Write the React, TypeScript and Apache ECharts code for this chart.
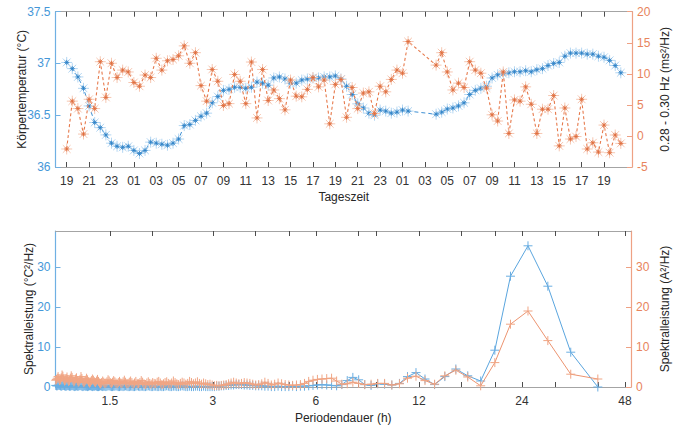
import React, { useEffect, useRef } from 'react';
import * as echarts from 'echarts';

// ---------- data: top chart (half-hourly samples starting 19:00 on day 1) ----------
const START_HOUR = 19;
const STEP_H = 0.5;
const TEMP: (number | null)[] = [
  37.01, 36.95, 36.87, 36.76, 36.59, 36.43, 36.38, 36.31, 36.23, 36.2,
  36.19, 36.2, 36.16, 36.13, 36.16, 36.24, 36.23, 36.22, 36.21, 36.23,
  36.27, 36.4, 36.41, 36.45, 36.49, 36.52, 36.62, 36.68, 36.74, 36.75,
  36.77, 36.77, 36.76, 36.77, 36.82, 36.81, 36.79, 36.86, 36.87, 36.85,
  36.81, 36.81, 36.84, 36.85, 36.86, 36.86, 36.87, 36.87, 36.88, 36.85,
  36.78, 36.7, 36.61, 36.57, 36.52, 36.5, 36.55, 36.54, 36.52, 36.53,
  36.55, 36.54, null, null, null, null, 36.51, 36.53, 36.56, 36.57,
  36.59, 36.62, 36.7, 36.74, 36.76, 36.78, 36.86, 36.89, 36.9, 36.91,
  36.92, 36.92, 36.93, 36.92, 36.94, 36.95, 36.98, 37.0, 37.01, 37.07,
  37.1, 37.1, 37.1, 37.09, 37.09, 37.07, 37.06, 37.03, 36.98, 36.91,
];
const HRV: (number | null)[] = [
  -2.1, 5.6, 4.4, 0.3, 5.9, 4.4, 11.95, 6.2, 11.7, 9.4,
  10.6, 10.3, 8.6, 8.0, 9.8, 9.4, 12.5, 10.6, 12.1, 12.3,
  12.9, 14.5, 11.7, 13.4, 8.1, 5.6, 10.7, 8.8, 4.9, 5.2,
  9.9, 8.8, 5.2, 11.9, 2.9, 10.7, 5.7, 7.4, 6.0, 4.2,
  9.0, 6.4, 6.3, 7.5, 9.4, 7.9, 9.0, 1.95, 8.3, 9.1,
  3.0, 7.8, 4.4, 6.9, 7.1, 3.6, 8.0, 7.1, 9.1, 10.6,
  10.1, 15.2, null, null, null, null, 11.4, 13.4, 10.3, 7.4,
  8.5, 7.8, 11.95, 10.6, 10.1, 7.7, 3.4, 2.4, 10.3, 0.4,
  5.8, 5.6, 7.9, 5.1, 0.4, 4.3, 4.3, 6.5, -1.6, 4.5,
  -0.5, -0.1, 5.9, -2.1, -1.1, -2.6, 1.75, -2.7, 0.15, -1.2,
];
const TIME_TICKS = [19, 21, 23, 25, 27, 29, 31, 33, 35, 37, 39, 41, 43, 45, 47, 49, 51, 53, 55, 57, 59, 61, 63, 65, 67];

// ---------- data: bottom chart (spectral bins, period = BIN_HOURS / k, k from FIRST_BIN) ----------
const BIN_HOURS = 200;
const FIRST_BIN = 5;
const PSD_TEMP = [
  0.0, 8.7, 25.2, 35.3, 27.7, 9.2, 1.5, 2.8, 4.5, 2.6,
  0.6, 2.0, 3.6, 2.6, 0.9, 0.5, 0.7, 0.8, 0.4, 0.6,
  1.8, 2.4, 1.6, 0.6, 0.3, 0.4, 0.5, 0.6, 0.5, 0.4,
  0.3, 0.2, 0.2, 0.1, 0.2, 0.1, 0.1, 0.1, 0.2, 0.1,
  0.1, 0.2, 0.2, 0.3, 0.3, 0.3, 0.4, 0.4, 0.5, 0.5,
  0.6, 0.6, 0.6, 0.5, 0.5, 0.4, 0.4, 0.3, 0.3, 0.2,
  0.2, 0.1, 0.1, 0.1, 0.1, 0.1, 0.2, 0.1, 0.1, 0.2,
  0.2, 0.1, 0.1, 0.2, 0.1, 0.1, 0.2, 0.3, 0.2, 0.1,
  0.1, 0.2, 0.2, 0.1, 0.1, 0.2, 0.3, 0.2, 0.1, 0.1,
  0.2, 0.1, 0.1, 0.2, 0.2, 0.1, 0.1, 0.2, 0.3, 0.2,
  0.1, 0.1, 0.2, 0.2, 0.1, 0.2, 0.3, 0.2, 0.1, 0.1,
  0.2, 0.2, 0.1, 0.1, 0.2, 0.3, 0.2, 0.1, 0.2, 0.2,
  0.1, 0.1, 0.2, 0.3, 0.2, 0.2, 0.1, 0.1, 0.2, 0.3,
  0.3, 0.2, 0.1, 0.2, 0.2, 0.1, 0.2, 0.3, 0.2, 0.1,
  0.1, 0.2, 0.3, 0.2, 0.2, 0.1, 0.2, 0.3, 0.3, 0.2,
  0.1, 0.2, 0.2, 0.3, 0.2, 0.1, 0.2, 0.3, 0.4, 0.3,
  0.2, 0.2, 0.3, 0.2, 0.1, 0.2, 0.3, 0.4, 0.3, 0.2,
  0.2, 0.3, 0.4, 0.3, 0.2, 0.2, 0.3, 0.4, 0.4, 0.3,
  0.2, 0.3, 0.4, 0.5, 0.4, 0.3, 0.3, 0.4,
];
const PSD_HRV = [
  2.0, 3.2, 11.6, 19.0, 15.7, 6.1, 0.3, 2.5, 4.2, 2.8,
  0.7, 1.6, 2.7, 2.2, 0.8, 0.5, 0.9, 0.9, 0.7, 0.6,
  0.9, 1.2, 0.8, 0.7, 1.5, 2.2, 2.1, 2.0, 1.9, 1.7,
  1.4, 0.9, 0.6, 0.5, 0.4, 0.5, 0.6, 0.8, 1.0, 0.7,
  0.5, 0.9, 1.2, 0.8, 0.6, 0.5, 0.7, 0.9, 1.0, 1.1,
  0.9, 0.8, 1.0, 1.2, 1.0, 0.8, 0.6, 0.5, 0.4, 0.3,
  0.4, 0.3, 0.5, 0.7, 0.6, 0.8, 1.0, 0.7, 0.9, 1.3,
  1.0, 0.8, 1.1, 1.4, 0.9, 0.7, 1.0, 1.2, 0.9, 0.6,
  0.8, 1.1, 1.5, 1.0, 0.7, 0.9, 1.3, 1.1, 0.8, 0.6,
  1.0, 1.4, 1.2, 0.8, 0.9, 1.1, 0.7, 0.9, 1.3, 1.0,
  0.6, 0.8, 1.2, 1.6, 1.1, 0.8, 0.9, 1.4, 1.0, 0.7,
  1.1, 1.5, 1.2, 0.9, 0.8, 1.2, 1.7, 1.3, 0.9, 1.0,
  1.4, 1.1, 0.8, 1.0, 1.3, 1.6, 1.2, 0.9, 1.1, 1.5,
  1.8, 1.3, 1.0, 0.9, 1.2, 1.5, 1.1, 0.8, 1.0, 1.4,
  1.9, 1.5, 1.1, 1.3, 1.7, 2.0, 1.6, 1.2, 1.0, 1.3,
  1.8, 2.2, 1.7, 1.3, 1.1, 1.5, 2.1, 2.6, 1.9, 1.4,
  1.2, 1.6, 2.3, 2.0, 1.5, 1.3, 1.8, 2.4, 2.8, 2.2,
  1.6, 1.4, 1.9, 2.5, 2.1, 1.7, 1.5, 2.0, 2.7, 3.0,
  2.3, 1.8, 1.6, 2.1, 2.6, 2.2, 1.9, 1.7,
];
const PERIOD_LABELS = [1.5, 3, 6, 12, 24, 48];
const PERIOD_TICKS = [1.5, 2, 3, 4, 5, 6, 8, 9, 12, 16, 20, 24, 30, 40, 48];
const PERIOD_MIN = 1.04;
const PERIOD_MAX = 50;

// ---------- styles ----------
const FONT = '"Liberation Sans", Arial, Helvetica, sans-serif';
const BLUE_TXT = '#4597d8';
const BLUE_AXIS = '#6fb0e3';
const BLUE_LINE = '#3d8fd3';
const BLUE_HALO = '#b3d6f2';
const BLUE_CORE = '#2a7fc6';
const OR_TXT = '#e8845c';
const OR_AXIS = '#eea184';
const OR_LINE = '#e6784a';
const OR_HALO = '#f6c7b2';
const OR_CORE = '#df6a39';
const BOX = '#a4a4a4';
const TICK = '#4d4d4d';
const TITLE = '#262626';

const HALO = 'path://M6,0L6,12M0,6L12,6M1.76,1.76L10.24,10.24M1.76,10.24L10.24,1.76';
const CORE = 'path://M3,0L3,6M0,3L6,3M0.9,0.9L5.1,5.1M0.9,5.1L5.1,0.9';
const PLUS = 'path://M5,0L5,10M0,5L10,5';

const pad2 = (v: number) => String(Math.round(v) % 24).padStart(2, '0');

export default function App() {
  const ref = useRef<HTMLDivElement>(null);
  useEffect(() => {
    if (!ref.current) return;
    const chart = echarts.init(ref.current, null, { renderer: 'svg' });

    const tempData = TEMP.map((v, i) => [START_HOUR + i * STEP_H, v]);
    const hrvData = HRV.map((v, i) => [START_HOUR + i * STEP_H, v]);
    const tempPts = tempData.filter((d) => d[1] !== null);
    const hrvPts = hrvData.filter((d) => d[1] !== null);
    const psdT = PSD_TEMP.map((v, i) => [Math.log2(BIN_HOURS / (FIRST_BIN + i)), v]);
    const psdH = PSD_HRV.map((v, i) => [Math.log2(BIN_HOURS / (FIRST_BIN + i)), v]);

    const txt = { fontFamily: FONT, fontSize: 12 };

    const xBase = (grid: number, pos: string) => ({
      gridIndex: grid, type: 'value', position: pos,
      axisLine: { show: true, onZero: false, lineStyle: { color: BOX, width: 1 } },
      splitLine: { show: false },
    });

    const yName = (name: string, gap: number) => ({
      name, nameLocation: 'middle', nameGap: gap, nameRotate: 90, nameMoveOverlap: false,
      nameTextStyle: { color: TITLE, ...txt },
    });

    const option: any = {
      animation: false,
      backgroundColor: '#fff',
      textStyle: { fontFamily: FONT },
      grid: [
        { left: 55.5, right: 42.5, top: 11.7, height: 155.3 },
        { left: 55.5, right: 43, top: 231, height: 156 },
      ],
      xAxis: [
        {
          ...xBase(0, 'bottom'), min: 18, max: 69.5,
          axisTick: { show: true, inside: true, length: 5, customValues: TIME_TICKS, lineStyle: { color: TICK } },
          axisLabel: { customValues: TIME_TICKS, formatter: (v: number) => pad2(v), color: '#333', margin: 8, ...txt },
          name: 'Tageszeit', nameLocation: 'middle', nameGap: 24,
          nameTextStyle: { color: TITLE, ...txt },
        },
        {
          ...xBase(0, 'top'), min: 18, max: 69.5,
          axisTick: { show: true, inside: true, length: 5, customValues: TIME_TICKS, lineStyle: { color: TICK } },
          axisLabel: { show: false },
        },
        {
          ...xBase(1, 'bottom'), min: Math.log2(PERIOD_MIN), max: Math.log2(PERIOD_MAX),
          axisTick: { show: true, inside: true, length: 5, customValues: PERIOD_TICKS.map(Math.log2), lineStyle: { color: TICK } },
          axisLabel: {
            customValues: PERIOD_LABELS.map(Math.log2),
            formatter: (v: number) => String(Math.round(Math.pow(2, v) * 10) / 10),
            color: '#333', margin: 8, ...txt,
          },
          name: 'Periodendauer (h)', nameLocation: 'middle', nameGap: 25,
          nameTextStyle: { color: TITLE, ...txt },
        },
        {
          ...xBase(1, 'top'), min: Math.log2(PERIOD_MIN), max: Math.log2(PERIOD_MAX),
          axisTick: { show: true, inside: true, length: 5, customValues: PERIOD_TICKS.map(Math.log2), lineStyle: { color: TICK } },
          axisLabel: { show: false },
        },
      ],
      yAxis: [
        {
          gridIndex: 0, type: 'value', min: 36, max: 37.5, interval: 0.5, position: 'left',
          axisLine: { show: true, lineStyle: { color: BLUE_AXIS, width: 1.2 } },
          axisTick: { show: true, inside: true, length: 5, lineStyle: { color: BLUE_AXIS } },
          axisLabel: { color: BLUE_TXT, margin: 5, ...txt },
          splitLine: { show: false },
          ...yName('Körpertemperatur (°C)', 28),
        },
        {
          gridIndex: 0, type: 'value', min: -5, max: 20, interval: 5, position: 'right',
          axisLine: { show: true, lineStyle: { color: OR_AXIS, width: 1.2 } },
          axisTick: { show: true, inside: true, length: 5, lineStyle: { color: OR_AXIS } },
          axisLabel: { color: OR_TXT, margin: 5, ...txt },
          splitLine: { show: false },
          ...yName('0.28 - 0.30 Hz (ms²/Hz)', 27),
        },
        {
          gridIndex: 1, type: 'value', min: 0, max: 39, position: 'left',
          axisLine: { show: true, lineStyle: { color: BLUE_AXIS, width: 1.2 } },
          axisTick: { show: true, inside: true, length: 5, customValues: [0, 10, 20, 30], lineStyle: { color: BLUE_AXIS } },
          axisLabel: { customValues: [0, 10, 20, 30], color: BLUE_TXT, margin: 5, ...txt },
          splitLine: { show: false },
          ...yName('Spektralleistung (°C²/Hz)', 21),
        },
        {
          gridIndex: 1, type: 'value', min: 0, max: 39, position: 'right',
          axisLine: { show: true, lineStyle: { color: OR_AXIS, width: 1.2 } },
          axisTick: { show: true, inside: true, length: 5, customValues: [0, 10, 20, 30], lineStyle: { color: OR_AXIS } },
          axisLabel: { customValues: [0, 10, 20, 30], color: OR_TXT, margin: 5, ...txt },
          splitLine: { show: false },
          ...yName('Spektralleistung (A²/Hz)', 28),
        },
      ],
      series: [
        {
          type: 'line', xAxisIndex: 0, yAxisIndex: 0, data: tempData, connectNulls: true,
          showAllSymbol: true, symbol: HALO, symbolSize: 11,
          itemStyle: { color: 'rgba(0,0,0,0)', borderColor: BLUE_HALO, borderWidth: 1 },
          lineStyle: { color: BLUE_LINE, width: 1, type: [4, 3] },
          silent: true, z: 2,
        },
        {
          type: 'scatter', xAxisIndex: 0, yAxisIndex: 0, data: tempPts,
          symbol: CORE, symbolSize: 5,
          itemStyle: { color: 'rgba(0,0,0,0)', borderColor: BLUE_CORE, borderWidth: 1 },
          silent: true, z: 3,
        },
        {
          type: 'line', xAxisIndex: 0, yAxisIndex: 1, data: hrvData, connectNulls: true,
          showAllSymbol: true, symbol: HALO, symbolSize: 11,
          itemStyle: { color: 'rgba(0,0,0,0)', borderColor: OR_HALO, borderWidth: 1 },
          lineStyle: { color: OR_LINE, width: 1.1, type: [3, 2.5] },
          silent: true, z: 4,
        },
        {
          type: 'scatter', xAxisIndex: 0, yAxisIndex: 1, data: hrvPts,
          symbol: CORE, symbolSize: 5,
          itemStyle: { color: 'rgba(0,0,0,0)', borderColor: OR_CORE, borderWidth: 1 },
          silent: true, z: 5,
        },
        {
          type: 'line', xAxisIndex: 2, yAxisIndex: 2, data: psdT,
          showAllSymbol: true, symbol: PLUS, symbolSize: 9,
          itemStyle: { color: 'rgba(0,0,0,0)', borderColor: '#6aaee2', borderWidth: 1 },
          lineStyle: { color: '#5aa5de', width: 1 },
          silent: true, z: 2,
        },
        {
          type: 'line', xAxisIndex: 2, yAxisIndex: 3, data: psdH,
          showAllSymbol: true, symbol: PLUS, symbolSize: 9,
          itemStyle: { color: 'rgba(0,0,0,0)', borderColor: '#f0a584', borderWidth: 1 },
          lineStyle: { color: '#ec9470', width: 1 },
          silent: true, z: 3,
        },
      ],
    };
    chart.setOption(option);
    return () => chart.dispose();
  }, []);

  return (
    <div
      ref={ref}
      style={{ position: 'absolute', left: 0, top: 0, width: 679, height: 425, background: '#fff' }}
    />
  );
}
